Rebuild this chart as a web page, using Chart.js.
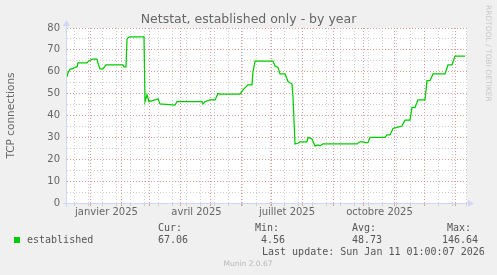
<!DOCTYPE html>
<html><head><meta charset="utf-8">
<script src="https://cdn.jsdelivr.net/npm/chart.js@4.4.1/dist/chart.umd.min.js"></script>
<style>
html,body{margin:0;padding:0;background:#F0F0F0;}
#wrap{position:relative;width:497px;height:275px;overflow:hidden;background:#F0F0F0;}
#c{position:absolute;left:0;top:0;}
.t{position:absolute;font-family:'DejaVu Sans Mono',monospace;font-size:10px;line-height:12px;color:#555;white-space:pre;}
</style></head><body>
<div id="wrap"><canvas id="c" width="497" height="275"></canvas></div>
<script>
// ---- data (x = days since 1 Jan 2025) ----
const dayOffsets = [-23,-22,-20,-17,-15,-13,-12,-3,-2,2,7,8,10,13,16,33,34,36,37,38,40,54,55,57,58,59,65,68,70,85,87,112,113,115,120,125,128,130,150,153,158,162,163,165,183,185,188,190,195,198,202,203,205,208,210,217,218,222,225,228,230,233,267,270,273,275,278,280,295,297,300,303,307,312,315,320,322,325,328,335,337,340,343,355,358,362,365,375];
const connections = [57.7,59.5,61.1,61.5,62.0,62.2,64.1,64.1,64.6,65.8,65.8,64.0,61.3,61.3,63.1,63.1,62.2,62.2,74.8,75.6,76.0,76.0,46.3,49.5,48.0,46.3,47.1,47.6,45.3,44.8,46.3,46.3,45.3,46.3,47.1,47.1,50.1,49.8,49.8,51.7,54.0,54.0,60.0,64.9,64.9,62.6,62.0,59.0,59.0,55.5,54.4,48.6,27.0,27.3,27.9,27.9,30.0,29.3,26.1,26.5,26.1,27.0,27.0,28.0,28.0,27.6,27.6,30.0,30.0,31.1,31.1,34.1,34.6,35.2,37.9,37.9,43.7,43.7,47.1,47.1,55.9,55.9,59.0,59.0,63.1,63.1,67.2,67.2];
const monthStartDays = [0,31,59,90,120,151,181,212,243,273,304,334,365];
const xLabelDays = [16.5,106.5,197,289.5];
const xTickLabels = ['janvier 2025','avril 2025','juillet 2025','octobre 2025'];
const seriesName = 'established';
const statHeaders = ['Cur:','Min:','Avg:','Max:'];
const statValues = ['67.06','4.56','48.73','146.64'];
const lastUpdate = 'Last update: Sun Jan 11 01:00:07 2026';
const footer = 'Munin 2.0.67';
const sideText = 'RRDTOOL / TOBI OETIKER';

// ---- styling ----
const MAJ = '#E49A9A', MIN = '#CFCFCF', AXIS = '#CFD6F8', FONTC = '#666666', GREEN = '#00CC00';
const X_MIN = -23, X_MAX = 377;

const minorDays = [];
for (let d = -16; d <= X_MAX; d += 14) if (!monthStartDays.includes(d)) minorDays.push(d);
const allX = [...monthStartDays, ...minorDays, ...xLabelDays].sort((a,b)=>a-b);
function xGridColor(c){
  if (!c || !c.tick) return 'rgba(0,0,0,0)';
  const v = c.tick.value;
  if (monthStartDays.includes(v)) return MAJ;
  if (minorDays.includes(v)) return MIN;
  return 'rgba(0,0,0,0)';
}
function yGridColor(c){
  if (!c || !c.tick) return 'rgba(0,0,0,0)';
  const v = c.tick.value;
  if (v === 0) return 'rgba(0,0,0,0)';
  return v % 10 === 0 ? MAJ : MIN;
}

const bgPlugin = {
  id:'bg',
  beforeDraw(chart){
    const {ctx, chartArea:a} = chart;
    ctx.save(); ctx.fillStyle = '#FFFFFF';
    ctx.fillRect(a.left, a.top, a.right-a.left, a.bottom-a.top);
    ctx.restore();
  }
};
const axisPlugin = {
  id:'axes',
  afterDatasetsDraw(chart){
    const {ctx, chartArea:a} = chart;
    ctx.save();
    ctx.strokeStyle = AXIS; ctx.fillStyle = AXIS; ctx.lineWidth = 1;
    const x0 = a.left - 0.5, y0 = a.bottom + 0.5;
    ctx.beginPath();
    ctx.moveTo(a.left - 4, y0); ctx.lineTo(a.right + 3, y0);
    ctx.moveTo(x0, a.bottom + 4); ctx.lineTo(x0, a.top - 4);
    ctx.stroke();
    ctx.beginPath();
    ctx.moveTo(a.right + 7, y0); ctx.lineTo(a.right + 1, y0 - 3.5); ctx.lineTo(a.right + 1, y0 + 3.5); ctx.closePath(); ctx.fill();
    ctx.beginPath();
    ctx.moveTo(x0, a.top - 8); ctx.lineTo(x0 - 3.5, a.top - 2); ctx.lineTo(x0 + 3.5, a.top - 2); ctx.closePath(); ctx.fill();
    ctx.restore();
  }
};

new Chart(document.getElementById('c'), {
  type:'line',
  data:{ datasets:[{
    label: seriesName,
    data: dayOffsets.map((d,i)=>({x:d, y:connections[i]})),
    borderColor: GREEN, borderWidth: 1.25, pointRadius: 0, tension: 0, fill: false
  }]},
  options:{
    responsive:false, animation:false, devicePixelRatio:1,
    layout:{ padding:0 },
    plugins:{
      legend:{display:false}, tooltip:{enabled:false},
      title:{ display:true, text:'Netstat, established only - by year', color:FONTC,
        font:{family:'DejaVu Sans', size:12.5, weight:'normal'}, padding:{top:12, bottom:1} }
    },
    scales:{
      x:{
        type:'linear', min:X_MIN, max:X_MAX,
        afterBuildTicks: s => { s.ticks = allX.map(v=>({value:v})); },
        afterFit: s => { s.height = 72; },
        grid:{ color:xGridColor, lineWidth:1, drawTicks:true, tickLength:3, tickColor:xGridColor },
        border:{ display:false, dash:[1,2] },
        ticks:{ autoSkip:false, maxRotation:0, minRotation:0, padding:0, color:FONTC,
          font:{family:'DejaVu Sans', size:10},
          callback: v => { const i = xLabelDays.indexOf(v); return i >= 0 ? xTickLabels[i] : ''; } }
      },
      y:{
        type:'linear', min:0, max:80,
        afterFit: s => { s.width = 67; },
        grid:{ color:yGridColor, lineWidth:1, drawTicks:false },
        border:{ display:false, dash:[1,2] },
        ticks:{ stepSize:5, autoSkip:false, padding:7, color:FONTC,
          font:{family:'DejaVu Sans', size:10},
          callback: v => (v % 10 === 0 ? String(v) : '') },
        title:{ display:true, text:'TCP connections', color:FONTC,
          font:{family:'DejaVu Sans', size:10.5}, padding:{top:5, bottom:0} }
      },
      yRight:{
        type:'linear', position:'right', min:0, max:80,
        afterFit: s => { s.width = 30; },
        grid:{ display:false, drawOnChartArea:false }, border:{ display:false },
        ticks:{ display:false }
      }
    }
  },
  plugins:[bgPlugin, axisPlugin]
});

// ---- legend / footer text ----
const wrap = document.getElementById('wrap');
function addText(txt, left, cy, extra){
  const d = document.createElement('div');
  d.className = 't'; d.textContent = txt;
  d.style.left = left + 'px'; d.style.top = (cy - 6) + 'px';
  if (extra) Object.assign(d.style, extra);
  wrap.appendChild(d); return d;
}
const sw = document.createElement('div');
Object.assign(sw.style,{position:'absolute',left:'14px',top:'237px',width:'6px',height:'6px',background:GREEN});
wrap.appendChild(sw);
addText(seriesName, 27, 240);
const headX = [158,255,352,447], valX = [158,261,352,442];
statHeaders.forEach((h,i)=>addText(h, headX[i], 228));
statValues.forEach((v,i)=>addText(v, valX[i], 240));
addText(lastUpdate, 262, 252);
addText(footer, 198, 264, {width:'100px', textAlign:'center', fontFamily:"'DejaVu Sans',sans-serif", fontSize:'7.5px', color:'#B8B8B8'});
const side = document.createElement('div');
side.textContent = sideText;
Object.assign(side.style,{position:'absolute',left:'484px',top:'5px',writingMode:'vertical-rl',
  fontFamily:"'DejaVu Sans',sans-serif",fontSize:'7.5px',lineHeight:'9px',color:'#C8C8C8',whiteSpace:'nowrap'});
wrap.appendChild(side);
</script>
</body></html>
